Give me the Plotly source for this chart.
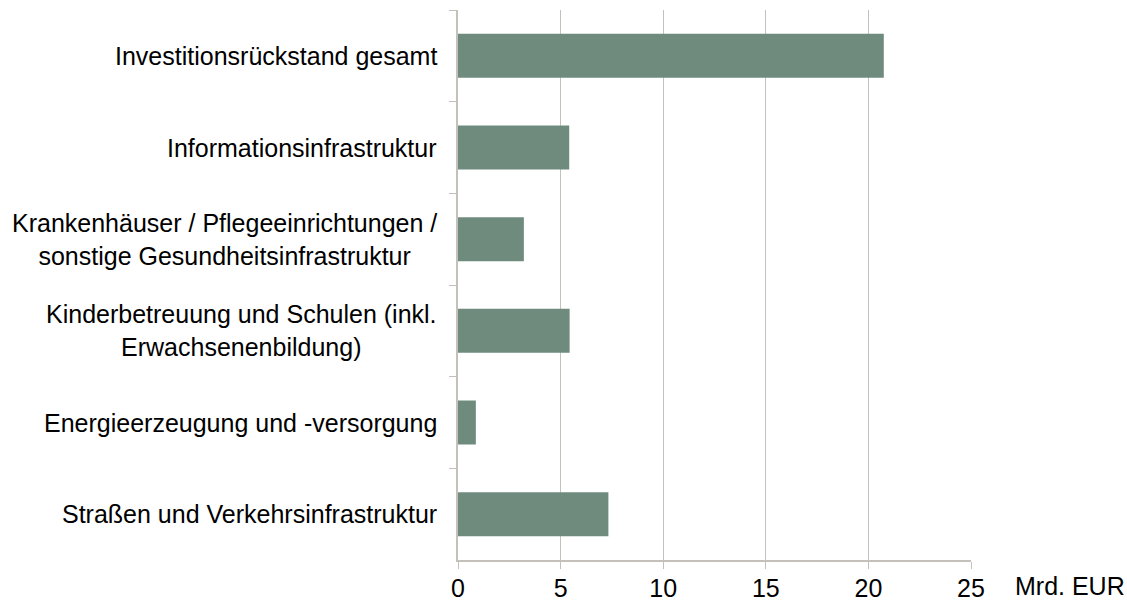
import plotly.graph_objects as go

categories = [
    "Investitionsrückstand gesamt",
    "Informationsinfrastruktur",
    "Krankenhäuser / Pflegeeinrichtungen /<br>sonstige Gesundheitsinfrastruktur",
    "Kinderbetreuung und Schulen (inkl.<br>Erwachsenenbildung)",
    "Energieerzeugung und -versorgung",
    "Straßen und Verkehrsinfrastruktur",
]
values = [20.75, 5.42, 3.21, 5.44, 0.87, 7.33]
x_ticks = [0, 5, 10, 15, 20, 25]
unit_label = "Mrd. EUR"

FONT = "Liberation Sans, Arial, sans-serif"
GRID = "#c4c0ba"
BAR = "#6f8b7e"
FS = 25

fig = go.Figure()
fig.add_trace(go.Bar(
    x=values,
    y=categories,
    orientation="h",
    marker=dict(color=BAR, line=dict(width=0)),
    width=0.48,
    hoverinfo="x+y",
))

annotations = []
for c in categories:
    annotations.append(dict(
        x=0, xref="paper", y=c, yref="y",
        text=c, showarrow=False, xanchor="right", yanchor="middle",
        align="center", xshift=-19,
        font=dict(family=FONT, size=FS, color="#000000"),
    ))
annotations.append(dict(
    x=1, xref="paper", y=0, yref="paper",
    text=unit_label, showarrow=False, xanchor="left", yanchor="middle",
    xshift=42, yshift=-26,
    font=dict(family=FONT, size=FS, color="#000000"),
))

fig.update_layout(
    width=1127, height=601,
    margin=dict(l=458, r=156, t=10, b=41, autoexpand=False),
    paper_bgcolor="white", plot_bgcolor="white",
    showlegend=False,
    annotations=annotations,
    font=dict(family=FONT, size=FS, color="#000000"),
    xaxis=dict(
        range=[0, 25], tickvals=x_ticks, ticktext=[str(v) for v in x_ticks],
        showgrid=True, gridcolor=GRID, gridwidth=1,
        zeroline=False,
        showline=True, linecolor=GRID, linewidth=1.5,
        ticks="outside", ticklen=7, tickcolor=GRID,
        ticklabelstandoff=-2,
        tickfont=dict(family=FONT, size=FS, color="#000000"),
        automargin=False,
        fixedrange=True,
    ),
    yaxis=dict(
        autorange="reversed",
        showticklabels=False,
        showgrid=False, zeroline=False,
        showline=True, linecolor=GRID, linewidth=1.5,
        ticks="outside", ticklen=7, tickcolor=GRID,
        tickson="boundaries",
        automargin=False,
        fixedrange=True,
    ),
)

fig.write_html(
    "out.html",
    config={"displayModeBar": False},
    post_script="document.body.style.margin='0';document.body.style.overflow='hidden';",
)
